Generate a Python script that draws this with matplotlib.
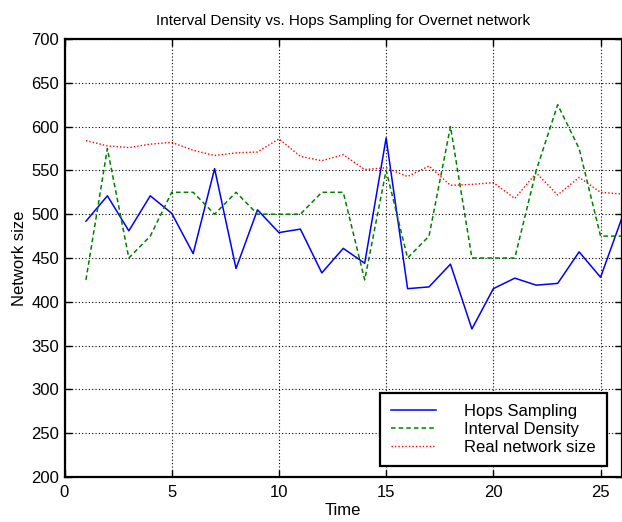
import numpy as np
import matplotlib
matplotlib.use("Agg")
from matplotlib import pyplot as plt

# values
time = list(range(1, 27))
hops_sampling = [492, 521, 481, 521, 501, 455, 552, 438, 505, 479, 483, 433, 461,
                 444, 587, 415, 417, 443, 369, 415, 427, 419, 421, 457, 428, 496]
interval_density = [425, 575, 450, 475, 525, 525, 500, 525, 500, 500, 500, 525, 525,
                    425, 550, 450, 475, 600, 450, 450, 450, 550, 625, 575, 475, 475]
real_size = [584, 578, 576, 580, 582, 573, 567, 570, 571, 586, 566, 561, 568,
             551, 553, 543, 555, 533, 534, 536, 518, 547, 522, 542, 525, 523]

plt.rcParams['font.family'] = ['Liberation Sans', 'DejaVu Sans']

fig = plt.figure(figsize=(6.22, 5.22), dpi=100)
ax = fig.add_axes([64.5 / 622, 45 / 522, 557.5 / 622, 438 / 522])

ax.plot(time, hops_sampling, color="#0000ff", linestyle="-", linewidth=1.1, label="Hops Sampling")
ax.plot(time, interval_density, color="#008000", linestyle=(0, (3, 2)), linewidth=1.1, label="Interval Density")
ax.plot(time, real_size, color="#ff0000", linestyle=(0, (1, 1.5)), linewidth=1.0, label="Real network size")

ax.set_xlim(0, 26)
ax.set_ylim(200, 700)
ax.set_xticks([0, 5, 10, 15, 20, 25])
ax.set_yticks(np.arange(200, 701, 50))

ax.grid(True, color="black", linestyle=(0, (1, 2)), linewidth=0.8)
ax.tick_params(direction="in", length=5, width=1, top=True, right=True, labelsize=12)
ax.tick_params(axis="y", pad=4)
ax.tick_params(axis="x", pad=6)
for s in ax.spines.values():
    s.set_linewidth(1.6)

ax.set_title("Interval Density vs. Hops Sampling for Overnet network", fontsize=11, pad=10)
ax.set_xlabel("Time", fontsize=12, labelpad=2)
ax.set_ylabel("Network size", fontsize=12, labelpad=3)

leg = ax.legend(loc="lower right", bbox_to_anchor=(0.973, 0.025), borderaxespad=0,
                fontsize=12, handlelength=2.7, handletextpad=1.7, labelspacing=0.18,
                borderpad=0.66, fancybox=False, framealpha=1)
leg.get_frame().set_edgecolor("black")
leg.get_frame().set_linewidth(1.6)

fig.savefig("out.png", dpi=100)
